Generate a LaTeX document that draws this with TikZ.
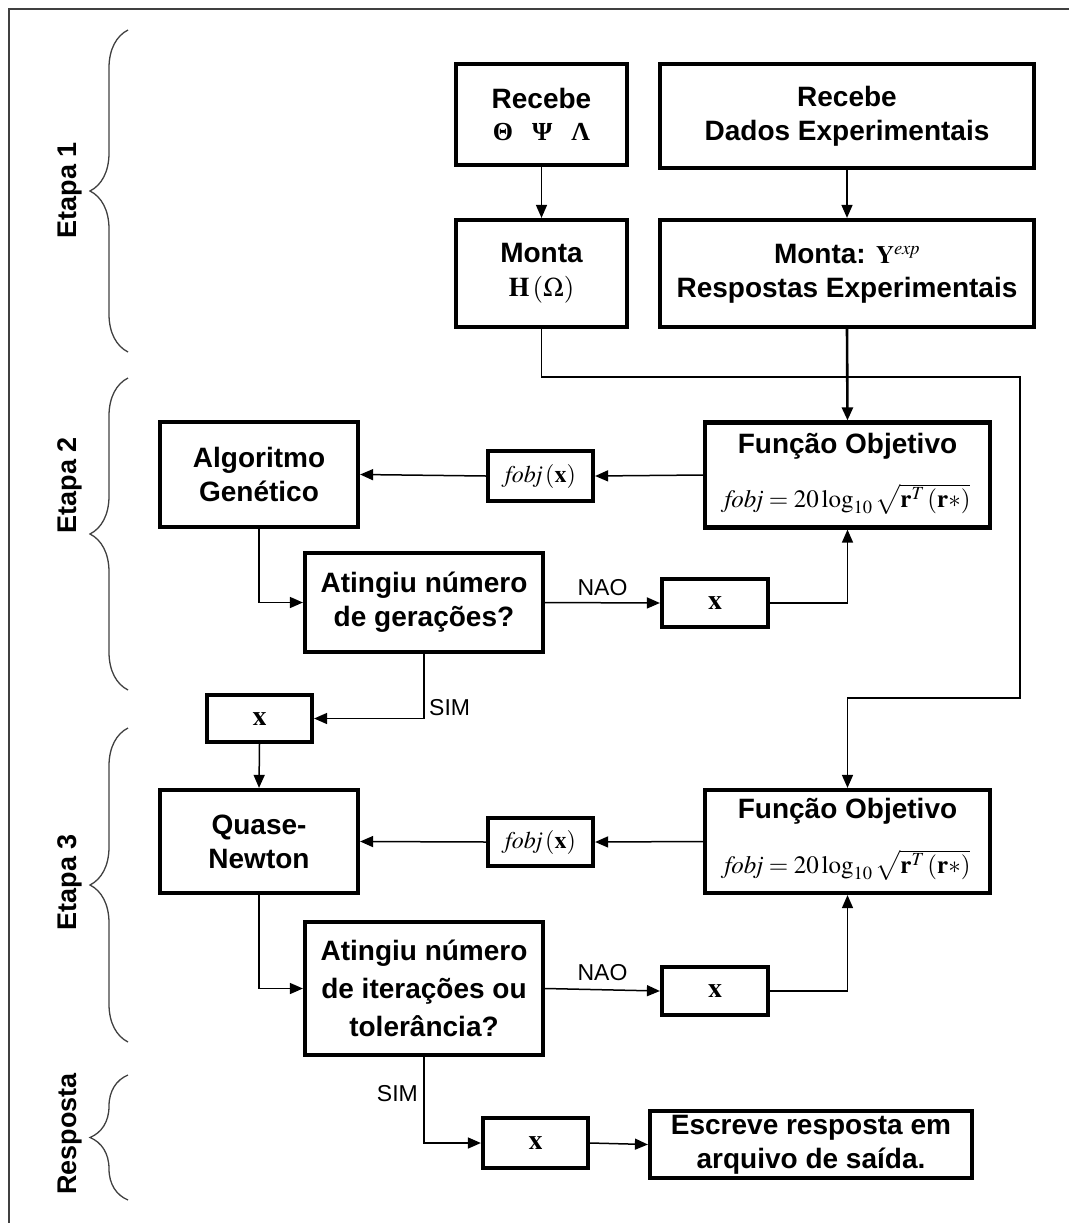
\documentclass[tikz,border=0pt]{standalone}
\usepackage{mathptmx}
\usepackage[no-math]{fontspec}
\setmainfont{Liberation Sans}
\newfontfamily\serifgr{Liberation Serif}
\usetikzlibrary{arrows.meta,decorations.pathreplacing}
\tikzset{
  bx/.style={draw, line width=4.2pt, align=center, inner sep=0pt,
    font=\fontsize{28}{34}\selectfont\bfseries},
  conn/.style={line width=1.5pt, -{Triangle[length=13pt,width=11pt]}},
  lbl/.style={font=\fontsize{23}{26}\selectfont, inner sep=0pt},
  etapa/.style={font=\fontsize{27}{30}\selectfont\bfseries, rotate=90, inner sep=0pt},
  brc/.style={decorate, decoration={brace, amplitude=38pt, aspect=0.5}, line width=1.3pt, draw=black!75},
  ttl/.style={font=\fontsize{28}{34}\selectfont\bfseries, inner sep=0pt},
  frm/.style={font=\fontsize{25}{28}\selectfont, inner sep=0pt},
  xs/.style={font=\fontsize{28}{30}\selectfont}
}
\begin{document}
\begin{tikzpicture}[x=1pt,y=-1pt]
\useasboundingbox (0,0) rectangle (1069,1223);
\draw[line width=2pt, black!75] (9,1223) -- (9,9) -- (1069,9);

% braces and stage labels
\draw[brc] (128,352) -- (128,30);
\draw[brc] (128,690) -- (128,378);
\draw[brc] (128,1042) -- (128,728);
\draw[brc] (128,1200) -- (128,1075);
\node[etapa] (e1) at (70,190) {Etapa 1};
\node[etapa] (e2) at (70,485) {Etapa 2};
\node[etapa] (e3) at (70,882) {Etapa 3};
\node[etapa] (e4) at (70,1134) {Resposta};

% Etapa 1
\node[bx, minimum width=171pt, minimum height=101pt] (A) at (541.5,114.5)
  {Recebe\\[-2pt]{\serifgr\fontsize{26}{28}\selectfont Θ\hspace{19pt}Ψ\hspace{19pt}Λ}};
\node[bx, minimum width=374pt, minimum height=104pt] (B) at (847,116)
  {Recebe\\Dados Experimentais};
\node[bx, minimum width=171pt, minimum height=107pt] (C) at (541.5,273.5)
  {Monta\\{\fontsize{27}{30}\selectfont$\mathbf{H}\left(\Omega\right)$}};
\node[bx, minimum width=374pt, minimum height=107pt] (D) at (847,273.5)
  {Monta: {\fontsize{25}{28}\selectfont$\mathbf{Y}^{\mathit{exp}}$}\\Respostas Experimentais};

% Etapa 2
\node[bx, minimum width=285pt, minimum height=105pt] (FO1) at (847.5,475) {};
\node[ttl] (t1) at (847.5,446) {Função Objetivo};
\node[frm] (f1) at (847.5,499) {$\mathit{fobj}=20\log_{10}\sqrt{\mathbf{r}^{T}\left(\mathbf{r}{*}\right)}$};
\node[bx, minimum width=105pt, minimum height=50pt] (F1) at (540.5,476)
  {\mdseries\fontsize{24}{26}\selectfont$\mathit{fobj}\left(\mathbf{x}\right)$};
\node[bx, minimum width=198pt, minimum height=105pt] (AG) at (259,474.5)
  {Algoritmo\\Genético};
\node[bx, minimum width=238pt, minimum height=99pt] (D1) at (424,602.5)
  {Atingiu número\\de gerações?};
\node[bx, minimum width=106pt, minimum height=48pt, xs] (X1) at (715,603) {$\mathbf{x}$};
\node[bx, minimum width=105pt, minimum height=47pt, xs] (X2) at (259.5,718.5) {$\mathbf{x}$};

% Etapa 3
\node[bx, minimum width=198pt, minimum height=103pt] (QN) at (259,841.5)
  {Quase-\\Newton};
\node[bx, minimum width=285pt, minimum height=103pt] (FO2) at (847.5,841.5) {};
\node[ttl] (t2) at (847.5,811) {Função Objetivo};
\node[frm] (f2) at (847.5,865) {$\mathit{fobj}=20\log_{10}\sqrt{\mathbf{r}^{T}\left(\mathbf{r}{*}\right)}$};
\node[bx, minimum width=105pt, minimum height=48pt] (F2) at (540.5,842)
  {\mdseries\fontsize{24}{26}\selectfont$\mathit{fobj}\left(\mathbf{x}\right)$};
\node[bx, minimum width=238pt, minimum height=133pt, font=\fontsize{28}{38}\selectfont\bfseries] (D2) at (424,988.5)
  {Atingiu número\\de iterações ou\\tolerância?};
\node[bx, minimum width=106pt, minimum height=48pt, xs] (X3) at (715,991) {$\mathbf{x}$};

% Resposta
\node[bx, minimum width=105pt, minimum height=50pt, xs] (X4) at (535.5,1143) {$\mathbf{x}$};
\node[bx, minimum width=322pt, minimum height=67pt] (E) at (811,1144.5)
  {Escreve resposta em\\arquivo de saída.};

% junction coordinates
\coordinate (j1) at (541.5,377);
\coordinate (j2) at (1020,377);
\coordinate (j3) at (1020,698);
\coordinate (j4) at (847.5,698);

% connectors
\draw[conn] (A) -- (C);
\draw[conn] (B) -- (D);
\draw[conn, line width=2.6pt] (D.south) -- (FO1.north);
\draw[conn] (C.south) -- (j1) -- (j2) -- (j3) -- (j4) -- (FO2.north);
\draw[conn] (FO1.west) -- (F1.east);
\draw[conn] (F1.west) -- (AG.east);
\draw[conn] (AG.south) |- (D1.west);
\draw[conn] (D1.east) -- node[lbl, above=6pt, pos=0.5] (nao1) {NAO} (X1.west);
\draw[conn] (X1.east) -| (FO1.south);
\draw[conn] (D1.south) |- (X2.east);
\node[lbl, anchor=south west] (sim1) at ([xshift=5pt,yshift=3pt]D1.south |- X2.east) {SIM};
\draw[conn] (X2.south) -- (QN.north);
\draw[conn] (FO2.west) -- (F2.east);
\draw[conn] (F2.west) -- (QN.east);
\draw[conn] (QN.south) |- (D2.west);
\draw[conn] (D2.east) -- node[lbl, above=8pt, pos=0.5] (nao2) {NAO} (X3.west);
\draw[conn] (X3.east) -| (FO2.south);
\draw[conn] (D2.south) |- (X4.west);
\node[lbl, anchor=east] (sim2) at (418,1094) {SIM};
\draw[conn] (X4.east) -- (E.west);
\end{tikzpicture}
\end{document}
